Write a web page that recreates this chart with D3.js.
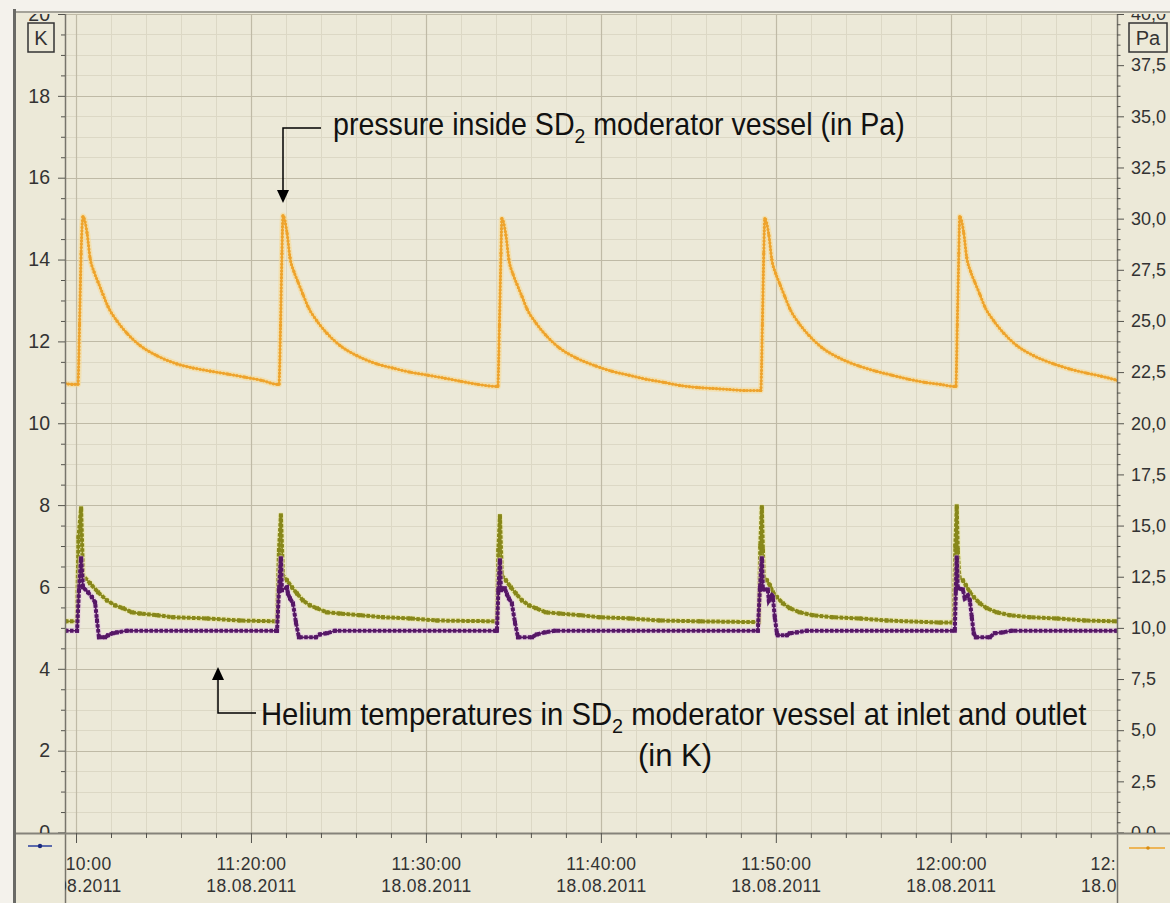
<!DOCTYPE html>
<html lang="en">
<head>
	<meta charset="UTF-8">
	<title>SD2 moderator vessel - pressure and helium temperatures</title>
	<style>
		body { margin: 0; background: #ECE9D8; }
		svg { display: block; font-family: "Liberation Sans", Arial, sans-serif; }
		.axis text { font-size: 18px; fill: #333; }
		.axis.left text { font-size: 19.5px; }
		.axis line { stroke: #55544e; }
		.axis path { display: none; }
		.note { font-family: "Liberation Sans Narrow", "Arial Narrow", "Liberation Sans", sans-serif; font-size: 31px; fill: #111; }
	</style>
</head>
<body>
	<svg id="chart" width="1170" height="903"></svg>
	<script src="https://cdn.jsdelivr.net/npm/d3@7"></script>
	<script>
		// time values are minutes after 11:00:00 on 18.08.2011
		var pressure = [ // Pa, right axis
			[9.37,21.95],[9.77,21.9],[10.11,21.9],[10.2,24.8],[10.29,28.3],[10.4,30.1],[10.63,29.3],[10.8,28.1],[11.03,27.4],[11.26,26.9],[11.54,26.3],[11.83,25.7],[12.34,25.0],[12.91,24.4],[13.66,23.8],[14.63,23.3],[15.77,22.9],[16.7,22.7],[17.66,22.55],[18.7,22.4],[19.66,22.25],[20.6,22.1],[21.54,21.9],
			[21.6,21.9],[21.69,24.8],[21.77,28.3],[21.83,30.15],[22.06,29.3],[22.23,28.1],[22.46,27.4],[22.69,26.9],[22.97,26.3],[23.26,25.7],[23.77,25.0],[24.34,24.4],[25.09,23.8],[26.06,23.3],[27.2,22.9],[28.1,22.7],[29.09,22.5],[30.1,22.35],[31.09,22.2],[32.0,22.05],[32.97,21.9],[34.06,21.8],
			[34.11,21.8],[34.2,24.8],[34.29,28.3],[34.34,30.0],[34.57,29.2],[34.74,28.0],[34.97,27.3],[35.2,26.8],[35.49,26.2],[35.77,25.6],[36.29,24.9],[36.86,24.3],[37.6,23.7],[38.57,23.2],[39.71,22.8],[40.6,22.55],[41.6,22.35],[42.6,22.15],[43.6,22.0],[44.5,21.85],[45.49,21.75],[46.4,21.7],[47.37,21.65],[48.2,21.6],[49.09,21.6],
			[49.14,21.6],[49.23,24.8],[49.31,28.3],[49.37,30.0],[49.6,29.2],[49.77,28.0],[50.0,27.3],[50.23,26.8],[50.51,26.2],[50.8,25.6],[51.31,24.9],[51.89,24.3],[52.63,23.7],[53.6,23.2],[54.74,22.8],[55.7,22.55],[56.63,22.35],[57.6,22.15],[58.51,22.0],[59.4,21.9],[60.23,21.8],
			[60.29,21.8],[60.37,24.8],[60.46,28.3],[60.51,30.1],[60.74,29.3],[60.91,28.1],[61.14,27.4],[61.37,26.9],[61.66,26.3],[61.94,25.7],[62.46,25.0],[63.03,24.4],[63.77,23.8],[64.74,23.3],[65.89,22.9],[66.8,22.65],[67.77,22.45],[68.6,22.3],[69.5,22.1]
		];

		var heliumOutlet = [ // K, left axis
			[9.37,5.16],[10.06,5.16],[10.14,7.21],[10.29,7.92],[10.4,6.28],[10.8,6.09],[11.26,5.87],[11.77,5.67],[12.23,5.55],[12.69,5.48],[13.2,5.38],[13.66,5.35],[14.63,5.31],[15.54,5.26],[17.49,5.23],[19.37,5.18],[21.43,5.16],
			[21.49,5.16],[21.6,6.9],[21.71,7.75],[21.83,6.28],[22.06,6.16],[22.34,5.99],[22.63,5.84],[22.97,5.67],[23.37,5.55],[23.77,5.48],[24.34,5.38],[25.09,5.35],[26.23,5.31],[27.54,5.26],[29.09,5.23],[30.63,5.18],[34.0,5.16],
			[34.06,5.16],[34.14,6.9],[34.23,7.73],[34.34,6.28],[34.57,6.16],[34.86,5.99],[35.14,5.84],[35.49,5.67],[35.89,5.55],[36.29,5.48],[36.86,5.38],[37.66,5.35],[38.8,5.31],[39.94,5.26],[41.66,5.23],[43.37,5.18],[45.66,5.16],[48.97,5.14],
			[49.03,5.14],[49.11,7.0],[49.2,7.95],[49.26,6.9],[49.31,6.23],[49.49,6.16],[49.66,6.04],[49.83,5.87],[50.06,5.75],[50.4,5.6],[50.8,5.48],[51.37,5.38],[52.11,5.31],[53.26,5.26],[54.8,5.23],[56.34,5.18],[59.37,5.13],[60.17,5.13],
			[60.26,7.0],[60.34,7.97],[60.4,6.9],[60.49,6.23],[60.69,6.16],[60.86,6.04],[61.09,5.87],[61.31,5.75],[61.66,5.6],[62.06,5.48],[62.63,5.38],[63.37,5.31],[64.51,5.26],[66.06,5.23],[67.66,5.18],[69.5,5.16]
		];

		var heliumInlet = [ // K, left axis
			[9.37,4.93],[10.06,4.93],[10.17,5.92],[10.29,6.7],[10.4,5.99],[10.69,5.87],[10.91,5.75],[11.09,5.62],[11.2,5.18],[11.31,4.77],[11.66,4.77],[11.83,4.82],[12.11,4.87],[12.34,4.89],[12.91,4.93],[21.43,4.93],
			[21.49,4.93],[21.6,5.92],[21.71,6.7],[21.77,5.92],[22.06,5.99],[22.11,5.84],[22.23,5.72],[22.4,5.6],[22.57,5.13],[22.74,4.77],[23.71,4.77],[23.94,4.84],[24.34,4.87],[24.8,4.93],[34.0,4.93],
			[34.06,4.93],[34.14,5.92],[34.23,6.65],[34.29,5.92],[34.51,5.97],[34.63,5.82],[34.74,5.72],[34.91,5.6],[35.09,5.13],[35.26,4.77],[36.06,4.77],[36.34,4.84],[36.8,4.89],[37.37,4.93],[48.97,4.93],
			[49.09,5.97],[49.2,6.7],[49.26,5.94],[49.54,5.94],[49.6,5.67],[49.77,5.79],[49.83,5.75],[49.94,5.26],[50.06,4.87],[50.11,4.82],[50.63,4.82],[50.8,4.87],[51.2,4.89],[51.77,4.93],[60.23,4.93],
			[60.29,5.92],[60.34,6.72],[60.4,5.97],[60.69,5.94],[60.8,5.72],[60.97,5.79],[61.09,5.67],[61.2,5.26],[61.31,4.87],[61.43,4.77],[62.23,4.77],[62.51,4.87],[62.97,4.89],[63.49,4.93],[69.5,4.93]
		];

		var leftTicks = [0, 2, 4, 6, 8, 10, 12, 14, 16, 18, 20];
		var rightTicks = [0, 2.5, 5, 7.5, 10, 12.5, 15, 17.5, 20, 22.5, 25, 27.5, 30, 32.5, 35, 37.5, 40];
		var timeTickMinutes = [10, 20, 30, 40, 50, 60, 70];
		var timeTickLabels = ["11:10:00", "11:20:00", "11:30:00", "11:40:00", "11:50:00", "12:00:00", "12:10:00"];
		var dateLabel = "18.08.2011";
		var timeWindow = [9.37, 69.5];

		var base = new Date(2011, 7, 18, 11, 0, 0);
		var toDate = (m) => new Date(base.getTime() + m * 60000);

		var plot = {left: 65, right: 1117, top: 14, bottom: 833};
		var svg = d3.select("#chart");
		var defs = svg.append("defs");

		defs.append("clipPath").attr("id", "plotClip").append("rect")
			.attr("x", plot.left).attr("y", plot.top)
			.attr("width", plot.right - plot.left).attr("height", plot.bottom - plot.top);
		defs.append("clipPath").attr("id", "yLabClip").append("rect")
			.attr("x", 0).attr("y", plot.top).attr("width", 1170).attr("height", plot.bottom - plot.top);
		defs.append("clipPath").attr("id", "xLabClip").append("rect")
			.attr("x", plot.left).attr("y", plot.bottom).attr("width", plot.right - plot.left).attr("height", 903 - plot.bottom);

		// frame
		svg.append("rect").attr("width", 1170).attr("height", 903).attr("fill", "#ECE9D8");
		svg.append("rect").attr("width", 1170).attr("height", 11).attr("fill", "#F4F2EC");
		svg.append("rect").attr("width", 13).attr("height", 903).attr("fill", "#F4F2EC");

		// scales
		var x = d3.scaleTime()
			.domain(timeWindow.map(toDate))
			.range([plot.left, plot.right]);
		var yL = d3.scaleLinear().domain([0, 20]).range([plot.bottom - 0.5, plot.top]);
		var yR = d3.scaleLinear().domain([0, 40]).range([plot.bottom - 0.5, plot.top]);

		// grid
		var grid = svg.append("g").attr("clip-path", "url(#plotClip)");
		var minorH = d3.range(0, 20.01, 0.5).filter(v => v % 2 !== 0);
		var minorV = x.ticks(d3.timeMinute.every(2)).filter(d => d.getMinutes() % 10 !== 0);
		var majorV = timeTickMinutes.map(toDate);

		grid.selectAll(".hmin").data(minorH).enter().append("line")
			.attr("x1", plot.left).attr("x2", plot.right)
			.attr("y1", d => Math.round(yL(d)) + 0.5).attr("y2", d => Math.round(yL(d)) + 0.5)
			.attr("stroke", "#DCD8C5").attr("stroke-width", 1);
		grid.selectAll(".vmin").data(minorV).enter().append("line")
			.attr("y1", plot.top).attr("y2", plot.bottom)
			.attr("x1", d => Math.round(x(d)) + 0.5).attr("x2", d => Math.round(x(d)) + 0.5)
			.attr("stroke", "#DCD8C5").attr("stroke-width", 1);
		grid.selectAll(".hmaj").data(leftTicks).enter().append("line")
			.attr("x1", plot.left).attr("x2", plot.right)
			.attr("y1", d => Math.round(yL(d)) + 0.5).attr("y2", d => Math.round(yL(d)) + 0.5)
			.attr("stroke", "#BFBAA6").attr("stroke-width", 1.2);
		grid.selectAll(".vmaj").data(majorV).enter().append("line")
			.attr("y1", plot.top).attr("y2", plot.bottom)
			.attr("x1", d => Math.round(x(d)) + 0.5).attr("x2", d => Math.round(x(d)) + 0.5)
			.attr("stroke", "#BFBAA6").attr("stroke-width", 1.2);

		// series
		var series = svg.append("g").attr("clip-path", "url(#plotClip)");

		function drawSeries(data, y, color, halo, beads, curve) {
			var line = d3.line()
				.curve(curve)
				.x(d => x(toDate(d[0])))
				.y(d => y(d[1]));
			series.append("path").datum(data).attr("d", line)
				.attr("fill", "none").attr("stroke", halo).attr("stroke-width", 6)
				.attr("stroke-linejoin", "round").attr("opacity", 0.55);
			series.append("path").datum(data).attr("d", line)
				.attr("fill", "none").attr("stroke", color).attr("stroke-width", 1.7)
				.attr("stroke-linejoin", "round");
			series.append("path").datum(data).attr("d", line)
				.attr("fill", "none").attr("stroke", color)
				.attr("stroke-width", beads.w)
				.attr("stroke-dasharray", beads.dash)
				.attr("stroke-linecap", beads.cap);
			series.selectAll(null).data(data).enter().append("rect")
				.attr("x", d => x(toDate(d[0])) - beads.m / 2)
				.attr("y", d => y(d[1]) - beads.m / 2)
				.attr("width", beads.m).attr("height", beads.m)
				.attr("rx", beads.cap === "round" ? beads.m / 2 : 0)
				.attr("fill", color);
		}

		drawSeries(heliumOutlet, yL, "#87871A", "#E9E59A", {w: 4, dash: "3.5 1.5", cap: "butt", m: 4}, d3.curveLinear);
		drawSeries(heliumInlet, yL, "#561766", "#E6C4E6", {w: 4, dash: "3.5 1.5", cap: "butt", m: 4}, d3.curveLinear);
		drawSeries(pressure, yR, "#EEA32C", "#F8D890", {w: 3.2, dash: "0 3.4", cap: "round", m: 3.2}, d3.curveMonotoneX);

		// axis lines
		svg.append("line").attr("x1", plot.left + 0.5).attr("x2", plot.left + 0.5)
			.attr("y1", plot.top).attr("y2", 903).attr("stroke", "#77756B").attr("stroke-width", 1.5);
		svg.append("line").attr("x1", plot.right + 0.5).attr("x2", plot.right + 0.5)
			.attr("y1", plot.top).attr("y2", 903).attr("stroke", "#77756B").attr("stroke-width", 1.5);
		svg.append("line").attr("x1", 13).attr("x2", 1170)
			.attr("y1", plot.bottom + 0.5).attr("y2", plot.bottom + 0.5)
			.attr("stroke", "#85837A").attr("stroke-width", 2);
		svg.append("line").attr("x1", 13).attr("x2", 1170)
			.attr("y1", 12).attr("y2", 12).attr("stroke", "#A4A298").attr("stroke-width", 2);
		svg.append("line").attr("x1", 14.5).attr("x2", 14.5)
			.attr("y1", 9).attr("y2", 903).attr("stroke", "#6A6A66").attr("stroke-width", 3);

		// left axis
		var gL = svg.append("g").attr("clip-path", "url(#yLabClip)");
		gL.append("g").attr("class", "axis")
			.attr("transform", `translate(${plot.left},0)`)
			.call(d3.axisLeft(yL).tickValues(minorH).tickSize(4).tickFormat(""));
		gL.append("g").attr("class", "axis left")
			.attr("transform", `translate(${plot.left},0)`)
			.call(d3.axisLeft(yL).tickValues(leftTicks).tickSize(7).tickPadding(8).tickFormat(d3.format("d")));

		// right axis
		var minorR = d3.range(0, 40.01, 0.5).filter(v => v % 2.5 !== 0);
		var gR = svg.append("g").attr("clip-path", "url(#yLabClip)");
		gR.append("g").attr("class", "axis")
			.attr("transform", `translate(${plot.right},0)`)
			.call(d3.axisRight(yR).tickValues(minorR).tickSize(3.5).tickFormat(""));
		gR.append("g").attr("class", "axis")
			.attr("transform", `translate(${plot.right},0)`)
			.call(d3.axisRight(yR).tickValues(rightTicks).tickSize(7).tickPadding(7)
				.tickFormat(d => d3.format(".1f")(d).replace(".", ",")));

		// bottom axis
		var gX = svg.append("g").attr("clip-path", "url(#xLabClip)");
		gX.append("g").attr("class", "axis")
			.attr("transform", `translate(0,${plot.bottom})`)
			.call(d3.axisBottom(x).tickValues(minorV).tickSize(5).tickFormat(""));
		var xa = gX.append("g").attr("class", "axis")
			.attr("transform", `translate(0,${plot.bottom})`)
			.call(d3.axisBottom(x).tickValues(majorV).tickSize(10).tickFormat((d, i) => timeTickLabels[i]));
		xa.selectAll(".tick text").each(function(d, i) {
			var t = d3.select(this).text(null).attr("y", 0).attr("dy", 0)
				.style("font-size", "17.5px").style("letter-spacing", "0.4px");
			t.append("tspan").attr("x", 0).attr("y", 37).text(timeTickLabels[i]);
			t.append("tspan").attr("x", 0).attr("y", 59).text(dateLabel);
		});

		// unit boxes
		function unitBox(x0, w, label) {
			svg.append("rect").attr("x", x0).attr("y", 23).attr("width", w).attr("height", 29)
				.attr("fill", "none").attr("stroke", "#333").attr("stroke-width", 1.5);
			svg.append("text").attr("x", x0 + w / 2).attr("y", 45).attr("text-anchor", "middle")
				.style("font-size", "20px").attr("fill", "#333").text(label);
		}
		unitBox(28, 26, "K");
		unitBox(1129, 38, "Pa");

		// legend swatches under the plot
		svg.append("line").attr("x1", 28).attr("x2", 52).attr("y1", 846).attr("y2", 846)
			.attr("stroke", "#2B3F9E").attr("stroke-width", 1.5);
		svg.append("circle").attr("cx", 40).attr("cy", 846).attr("r", 2.2).attr("fill", "#1B2A80");
		svg.append("line").attr("x1", 1129).attr("x2", 1165).attr("y1", 848).attr("y2", 848)
			.attr("stroke", "#EEA32C").attr("stroke-width", 1.5);
		svg.append("circle").attr("cx", 1148).attr("cy", 848).attr("r", 1.8).attr("fill", "#D88C10");

		// annotations
		var notes = svg.append("g");
		function arrowHead(px, py, dir) {
			notes.append("path")
				.attr("d", `M${px},${py} L${px - 6},${py - 13 * dir} L${px + 6},${py - 13 * dir} Z`)
				.attr("fill", "#000");
		}
		// text squeezed horizontally to the width it has in the original
		function note(x0, y0, width, before, after) {
			var t = notes.append("text").attr("class", "note");
			t.append("tspan").text(before);
			t.append("tspan").attr("dy", 8).style("font-size", "21px").text("2");
			t.append("tspan").attr("dy", -8).text(after);
			var w = t.node().getComputedTextLength();
			t.attr("transform", `translate(${x0},${y0}) scale(${width / w},1)`);
		}
		notes.append("path").attr("d", "M321,128 H283 V192")
			.attr("fill", "none").attr("stroke", "#000").attr("stroke-width", 1.5);
		arrowHead(283, 203, 1);
		note(333, 135, 572, "pressure inside SD", " moderator vessel (in Pa)");

		notes.append("path").attr("d", "M256,713 H218 V679")
			.attr("fill", "none").attr("stroke", "#000").attr("stroke-width", 1.5);
		arrowHead(218, 667, -1);
		note(261, 725, 826, "Helium temperatures in SD", " moderator vessel at inlet and outlet");
		notes.append("text").attr("class", "note").attr("x", 675).attr("y", 766)
			.attr("text-anchor", "middle").text("(in K)");
	</script>
</body>
</html>
